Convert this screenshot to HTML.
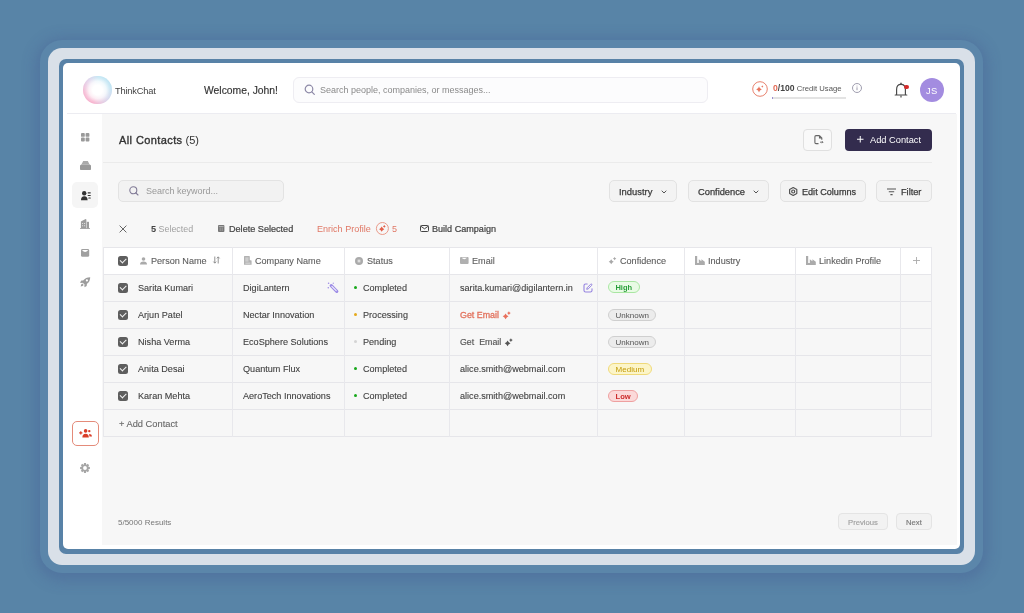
<!DOCTYPE html>
<html><head><meta charset="utf-8">
<style>
*{margin:0;padding:0;box-sizing:border-box}
html,body{width:1024px;height:613px;overflow:hidden}
body{background:#5884a7;font-family:"Liberation Sans",sans-serif;position:relative;color:#333}
.abs{position:absolute}
svg{position:absolute;overflow:visible}
#frame{left:48px;top:48px;width:927px;height:517px;border-radius:14px;background:#d9e0e8;box-shadow:0 0 0 8px #5b86aa,0 3px 14px 13px rgba(60,72,140,.26)}
#inner{left:59px;top:59px;width:905px;height:495px;border-radius:7px;background:#5882a7}
#app{left:63px;top:63px;width:897px;height:486px;border-radius:5px;background:#fff;overflow:hidden}
#content{left:102px;top:114px;width:855px;height:431px;background:#f7f7f7}
.t{position:absolute;white-space:nowrap;line-height:1;will-change:transform}
.btn{position:absolute;border:1px solid #e2e2e2;border-radius:5px;background:#f3f3f3}
.row{position:absolute;left:103px;width:829px;height:27px;border-bottom:1px solid #e6e6ea}
.vl{position:absolute;top:247px;width:1px;height:190px;background:#e8e8ec}
.cell{will-change:transform;position:absolute;height:27px;line-height:28px;font-size:9.1px;color:#404040;white-space:nowrap;-webkit-text-stroke-width:.1px}
.hd{color:#5e5e5e;-webkit-text-stroke-width:.12px}
.cb{position:absolute;left:118px;width:10px;height:10px;border-radius:2.5px;background:#5e5e5e}
.cb:after{content:"";position:absolute;left:2.2px;top:2.3px;width:5px;height:2.6px;border-left:1.5px solid #f4f4f4;border-bottom:1.5px solid #f4f4f4;transform:rotate(-45deg)}
.dot{display:inline-block;width:3.4px;height:3.4px;border-radius:50%;vertical-align:middle;margin-right:5.6px;position:relative;top:-1px}
.pill{will-change:transform;position:absolute;left:608px;height:12.4px;border-radius:7px;border:1px solid;font-size:8px;line-height:11.6px;padding-left:6.6px}
</style></head><body>
<div id="frame" class="abs"></div>
<div id="inner" class="abs"></div>
<div id="app" class="abs"></div>
<div id="content" class="abs"></div>

<!-- ============ HEADER ============ -->
<div class="abs" style="left:67px;top:113px;width:889px;height:1px;background:#ececf1"></div>
<div class="abs" style="left:83.3px;top:75.8px;width:28.6px;height:28.6px;border-radius:50%;background:conic-gradient(from 200deg,#f59cc0,#f3a9c9 60deg,#dcc8e6 115deg,#b4e0f1 165deg,#b0ddf0 235deg,#cfd0ea 290deg,#f59cc0 360deg)"></div>
<div class="abs" style="left:83.3px;top:75.8px;width:28.6px;height:28.6px;border-radius:50%;background:radial-gradient(circle closest-side,#fff 0,#fff 35%,rgba(255,255,255,.82) 62%,rgba(255,255,255,.4) 85%,rgba(255,255,255,.2) 100%)"></div>
<div class="t" style="left:114.8px;top:87px;font-size:9.3px;letter-spacing:-.2px;color:#444">ThinkChat</div>
<div class="t" style="left:204px;top:86px;font-size:10.35px;color:#333;-webkit-text-stroke:.15px #333">Welcome, John!</div>
<div class="abs" style="left:293px;top:77px;width:415px;height:26px;border:1px solid #eeedf2;border-radius:6px;background:#fcfcfd"></div>
<svg style="left:304px;top:84px" width="12" height="12" viewBox="0 0 12 12"><circle cx="5" cy="5" r="3.8" fill="none" stroke="#8c88a6" stroke-width="1.2"/><path d="M7.8 7.8L10.3 10.3" stroke="#8c88a6" stroke-width="1.2" stroke-linecap="round"/></svg>
<div class="t" style="left:320px;top:86px;font-size:9px;color:#8a8a8a">Search people, companies, or messages...</div>

<svg style="left:752px;top:81px" width="16" height="16" viewBox="0 0 16 16"><circle cx="8" cy="8" r="7.3" fill="none" stroke="#e8826e" stroke-width="1"/><path d="M7 5.2Q7.4 8 9.8 8.4Q7.4 8.8 7 11.6Q6.6 8.8 4.2 8.4Q6.6 8 7 5.2Z" fill="#e8735c"/><path d="M10.3 4.2Q10.5 5.3 11.4 5.5Q10.5 5.7 10.3 6.8Q10.1 5.7 9.2 5.5Q10.1 5.3 10.3 4.2Z" fill="#e8735c"/></svg>
<div class="t" style="left:772.5px;top:84px;font-size:7.7px;color:#555"><b style="color:#e26a55;font-size:8.6px">0</b><b style="color:#444;font-size:8.6px">/100</b> Credit Usage</div>
<div class="abs" style="left:772px;top:96.5px;width:74px;height:2px;background:#e3e3e3"></div>
<div class="abs" style="left:772px;top:96.5px;width:1px;height:2px;background:#9a8fd0"></div>
<svg style="left:852px;top:82.5px" width="10" height="10" viewBox="0 0 10 10"><circle cx="5" cy="5" r="4.5" fill="none" stroke="#9593a6" stroke-width="0.9"/><path d="M5 4.3V7.2" stroke="#9593a6" stroke-width="0.9"/><circle cx="5" cy="2.9" r="0.5" fill="#9593a6"/></svg>
<svg style="left:894px;top:82px" width="14" height="17" viewBox="0 0 14 17"><path d="M2.6 12.9V7.6Q2.6 2.3 7 2.3Q11.4 2.3 11.4 7.6V12.9" fill="none" stroke="#484848" stroke-width="1.15"/><path d="M1.2 13H12.8" stroke="#484848" stroke-width="1.2" stroke-linecap="round"/><path d="M7 13.4V15.6" stroke="#484848" stroke-width="1.2"/><path d="M7 1.2V2.4" stroke="#484848" stroke-width="1.3" stroke-linecap="round"/></svg>
<div class="abs" style="left:904px;top:84.7px;width:4.8px;height:4.8px;border-radius:50%;background:#d62b2b"></div>
<div class="abs" style="left:919.6px;top:77.8px;width:24.4px;height:24.4px;border-radius:50%;background:#a38ce0"></div>
<div class="t" style="left:925.8px;top:85.5px;font-size:9.4px;color:#fff;letter-spacing:0.3px">JS</div>

<!-- ============ SIDEBAR ============ -->
<svg style="left:80.8px;top:132.7px" width="8.4" height="8.4" viewBox="0 0 8.4 8.4" fill="#9a9a9a"><rect x="0" y="0" width="3.8" height="3.8" rx=".9"/><rect x="4.6" y="0" width="3.8" height="3.8" rx=".9"/><rect x="0" y="4.6" width="3.8" height="3.8" rx=".9"/><rect x="4.6" y="4.6" width="3.8" height="3.8" rx=".9"/></svg>
<svg style="left:80px;top:161px" width="11" height="9" viewBox="0 0 11 9"><path d="M3.2 0H7.8L9.6 3.6H1.4Z" fill="#aaa"/><path d="M1.2 3.6H9.8L11 4.6V8.2Q11 9 10.2 9H.8Q0 9 0 8.2V4.6Z" fill="#999"/></svg>
<div class="abs" style="left:72px;top:182px;width:26px;height:26px;border-radius:5px;background:#f5f5f5"></div>
<svg style="left:80.5px;top:190.5px" width="10.5" height="9.5" viewBox="0 0 10.5 9.5" fill="#333"><circle cx="3.2" cy="2.2" r="2.2"/><path d="M0 9.3Q0 5.2 3.3 5.2Q6.6 5.2 6.6 9.3Z"/><rect x="6.6" y="1.3" width="3.2" height="1.1" rx=".4"/><rect x="6.6" y="3.9" width="3.2" height="1.1" rx=".4"/><rect x="7.3" y="6.5" width="2.5" height="1.1" rx=".4"/></svg>
<svg style="left:80px;top:219px" width="10" height="10" viewBox="0 0 10 10"><path d="M.9 9.5V2.6L5.6 0L6.4 .4V9.5Z" fill="#9c9c9c"/><path d="M6.8 9.5V2.8H9V9.5Z" fill="#9c9c9c"/><path d="M2.1 4H3.1V5H2.1ZM4.1 4H5.1V5H4.1ZM2.1 6.2H3.1V7.2H2.1ZM4.1 6.2H5.1V7.2H4.1Z" fill="#e4e4e4"/><rect x="0" y="9.2" width="10" height=".8" fill="#9c9c9c"/></svg>
<svg style="left:80.9px;top:249px" width="8.2" height="7.8" viewBox="0 0 8.2 7.8"><path d="M0 1.4Q0 0 1.4 0H6.8Q8.2 0 8.2 1.4V6.4Q8.2 7.8 6.8 7.8H1.4Q0 7.8 0 6.4Z" fill="#a0a0a0"/><path d="M1 .9Q4.1 5.2 7.2 .9Z" fill="#fff"/></svg>
<svg style="left:79.9px;top:276.7px" width="10.4" height="10.2" viewBox="0 0 10.4 10.2" fill="#9c9c9c"><path d="M10.2 .2Q5.6 .2 3.2 3.6L2.2 5.2L5.1 8.1L6.7 7.1Q10.2 4.8 10.2 .2Z"/><path d="M3.6 3.4L1.3 3.6L0 5.8L2.5 5.9Z"/><path d="M6.9 6.8L6.7 9L4.5 10.2L4.4 7.8Z"/><path d="M2.3 6.6Q.9 7.3 .7 9.6Q3 9.4 3.7 8Z"/><circle cx="6.9" cy="3.4" r="1.1" fill="#fff"/></svg>
<div class="abs" style="left:72px;top:421px;width:26.5px;height:24.5px;border-radius:5px;border:1px solid #e48b7a;background:#fff"></div>
<svg style="left:79px;top:429.3px" width="13" height="8.6" viewBox="0 0 13 8.6" fill="#d93d28"><circle cx="6.6" cy="1.9" r="1.8"/><path d="M3.4 8.4Q3.4 4.7 6.6 4.7Q9.8 4.7 9.8 8.4Z"/><path d="M.2 3.9H3.4M1.8 2.3V5.5" stroke="#d93d28" stroke-width="1.1"/><circle cx="10.3" cy="2.1" r="1.2"/><path d="M13 7.6Q13 5.1 10.9 5.1Q10.2 5.1 9.9 5.4Q10.5 6.5 10.5 7.6Z"/></svg>
<svg style="left:80px;top:463px" width="10" height="10" viewBox="0 0 10 10"><path fill="#a6a6a6" fill-rule="evenodd" d="M4.01 0.10 L5.99 0.10 L6.16 1.49 L6.66 1.69 L7.76 0.83 L9.17 2.24 L8.31 3.34 L8.51 3.84 L9.90 4.01 L9.90 5.99 L8.51 6.16 L8.31 6.66 L9.17 7.76 L7.76 9.17 L6.66 8.31 L6.16 8.51 L5.99 9.90 L4.01 9.90 L3.84 8.51 L3.34 8.31 L2.24 9.17 L0.83 7.76 L1.69 6.66 L1.49 6.16 L0.10 5.99 L0.10 4.01 L1.49 3.84 L1.69 3.34 L0.83 2.24 L2.24 0.83 L3.34 1.69 L3.84 1.49Z M5 3.1A1.9 1.9 0 1 0 5 6.9A1.9 1.9 0 1 0 5 3.1Z"/></svg>

<!-- ============ CONTENT HEADER ============ -->
<div class="t" style="left:118.5px;top:134.5px;font-size:11px;color:#333"><span style="-webkit-text-stroke:.35px #333;letter-spacing:.4px">All Contacts</span> (5)</div>
<div class="abs" style="left:103px;top:162px;width:829px;height:1px;background:#ebebeb"></div>
<div class="abs" style="left:803.3px;top:128.5px;width:29px;height:22px;border-radius:4px;border:1px solid #e0e0e0;background:#f9f9f9"></div>
<svg style="left:814px;top:135px" width="10" height="10" viewBox="0 0 10 10"><path d="M5.5 .6H2Q.9 .6 .9 1.7V7.5Q.9 8.6 2 8.6H4.5M5.5 .6L7.8 2.9V4.8M5.5 .6V2.9H7.8" fill="none" stroke="#666" stroke-width="1.1"/><path d="M6 7.2H9M8 6.2L9 7.2L8 8.2" fill="none" stroke="#666" stroke-width=".9"/></svg>
<div class="abs" style="left:845.3px;top:128.7px;width:86.7px;height:22px;border-radius:4px;background:#332c4e"></div>
<svg style="left:857px;top:136px" width="6.5" height="6.5" viewBox="0 0 6.5 6.5"><path d="M3.25 0V6.5M0 3.25H6.5" stroke="#fff" stroke-width="1"/></svg>
<div class="t" style="left:870.2px;top:136px;font-size:9.27px;color:#fff">Add Contact</div>

<!-- ============ FILTER BAR ============ -->
<div class="btn" style="left:118.3px;top:180.3px;width:166px;height:22px;border-color:#e3e3e3;background:#f2f2f2"></div>
<svg style="left:129px;top:186.3px" width="11" height="10" viewBox="0 0 11 10"><circle cx="4.3" cy="4.3" r="3.5" fill="none" stroke="#807a96" stroke-width="1.1"/><path d="M6.8 6.8L9 9" stroke="#807a96" stroke-width="1.1" stroke-linecap="round"/></svg>
<div class="t" style="left:145.7px;top:187px;font-size:9px;color:#999">Search keyword...</div>

<div class="btn" style="left:609.2px;top:180.4px;width:68.3px;height:22px"></div>
<div class="t" style="left:619.4px;top:187px;font-size:9.4px;color:#3a3a3a;-webkit-text-stroke:.25px #3a3a3a">Industry</div>
<svg style="left:661px;top:189.5px" width="6" height="4" viewBox="0 0 6 4"><path d="M.7 .7L3 3L5.3 .7" fill="none" stroke="#555" stroke-width="1"/></svg>
<div class="btn" style="left:688px;top:180.4px;width:81.3px;height:22px"></div>
<div class="t" style="left:698px;top:188px;font-size:9.3px;color:#3a3a3a;-webkit-text-stroke:.25px #3a3a3a">Confidence</div>
<svg style="left:752.5px;top:189.5px" width="6" height="4" viewBox="0 0 6 4"><path d="M.7 .7L3 3L5.3 .7" fill="none" stroke="#555" stroke-width="1"/></svg>
<div class="btn" style="left:780.3px;top:180.4px;width:85.7px;height:22px"></div>
<svg style="left:788.8px;top:187px" width="8.4" height="9" viewBox="0 0 8.4 9"><path d="M4.2 .6L7.8 2.6V6.4L4.2 8.4L.6 6.4V2.6Z" fill="none" stroke="#505050" stroke-width="1.15" stroke-linejoin="round"/><circle cx="4.2" cy="4.5" r="1.5" fill="none" stroke="#505050" stroke-width="1.2"/></svg>
<div class="t" style="left:801.6px;top:188px;font-size:9.1px;color:#3a3a3a;-webkit-text-stroke:.25px #3a3a3a">Edit Columns</div>
<div class="btn" style="left:876.2px;top:180.4px;width:55.4px;height:22px"></div>
<svg style="left:887px;top:188px" width="9" height="8" viewBox="0 0 9 8"><path d="M0 1H9M1.8 3.8H7.2M3.4 6.6H5.6" stroke="#555" stroke-width="1.1"/></svg>
<div class="t" style="left:901.2px;top:188px;font-size:9.2px;color:#3a3a3a;-webkit-text-stroke:.25px #3a3a3a">Filter</div>

<!-- ============ ACTION BAR ============ -->
<svg style="left:119px;top:225px" width="8" height="8" viewBox="0 0 8 8"><path d="M.6 .6L7.4 7.4M7.4 .6L.6 7.4" stroke="#666" stroke-width="1"/></svg>
<div class="t" style="left:150.6px;top:225px;font-size:8.9px;color:#a0a0a0"><b style="color:#444;font-size:9.2px">5</b> Selected</div>
<svg style="left:217.8px;top:225.4px" width="6.4" height="7" viewBox="0 0 6.4 7"><path d="M0 .9Q0 0 .9 0H5.5Q6.4 0 6.4 .9V6.1Q6.4 7 5.5 7H.9Q0 7 0 6.1Z" fill="#777"/><path d="M.8 1.6H5.6" stroke="#ddd" stroke-width=".6"/><path d="M2.2 2.6V6M4.2 2.6V6" stroke="#bbb" stroke-width=".6"/></svg>
<div class="t" style="left:228.5px;top:225px;font-size:9.1px;color:#444;-webkit-text-stroke:.22px #444">Delete Selected</div>
<div class="t" style="left:317px;top:224.5px;font-size:9.05px;color:#e07866">Enrich Profile</div>
<svg style="left:376px;top:222px" width="13" height="13" viewBox="0 0 13 13"><circle cx="6.4" cy="6.5" r="6" fill="none" stroke="#e8907e" stroke-width=".9"/><path d="M5.7 4.6Q6.48 6.42 8.3 7.2Q6.48 7.98 5.7 9.8Q4.92 7.98 3.1 7.2Q4.92 6.42 5.7 4.6Z" fill="#e4604a"/><path d="M8.3 3.0000000000000004Q8.72 3.98 9.700000000000001 4.4Q8.72 4.82 8.3 5.800000000000001Q7.88 4.82 6.9 4.4Q7.88 3.98 8.3 3.0000000000000004Z" fill="#e4604a"/></svg>
<div class="t" style="left:391.6px;top:224.5px;font-size:9px;color:#e07866">5</div>
<svg style="left:419.5px;top:225.2px" width="9" height="7" viewBox="0 0 9 7"><rect x=".5" y=".5" width="8" height="6" rx="1" fill="none" stroke="#444" stroke-width="1"/><path d="M.8 1.2L4.5 3.8L8.2 1.2" fill="none" stroke="#444" stroke-width="1"/></svg>
<div class="t" style="left:431.5px;top:225px;font-size:9.07px;color:#444;-webkit-text-stroke:.22px #444">Build Campaign</div>

<!-- ============ TABLE ============ -->
<div class="abs" style="left:103px;top:247px;width:829px;height:28px;background:#fff"></div>
<div class="abs" style="left:103px;top:247px;width:829px;height:1px;background:#e6e6ea"></div>
<div class="row" style="top:248px"></div>
<div class="row" style="top:275px"></div>
<div class="row" style="top:302px"></div>
<div class="row" style="top:329px"></div>
<div class="row" style="top:356px"></div>
<div class="row" style="top:383px"></div>
<div class="row" style="top:410px"></div>
<div class="vl" style="left:103px"></div>
<div class="vl" style="left:232px"></div>
<div class="vl" style="left:344px"></div>
<div class="vl" style="left:449px"></div>
<div class="vl" style="left:597px"></div>
<div class="vl" style="left:684px"></div>
<div class="vl" style="left:795px"></div>
<div class="vl" style="left:900px"></div>
<div class="vl" style="left:931px"></div>

<!-- header cells -->
<div class="cb" style="top:256px"></div>
<svg style="left:139.5px;top:256.5px" width="7" height="8" viewBox="0 0 7 8" fill="#aaa"><circle cx="3.5" cy="2" r="1.8"/><path d="M0 7.5Q0 4.5 3.5 4.5Q7 4.5 7 7.5Z"/></svg>
<div class="cell hd" style="left:150.6px;top:247px">Person Name</div>
<svg style="left:212.5px;top:256px" width="7" height="8" viewBox="0 0 7 8"><path d="M1.8 .5V7M.4 5.6L1.8 7.2L3.2 5.6M5.2 7.5V1M3.8 2.4L5.2 .8L6.6 2.4" fill="none" stroke="#888" stroke-width=".9"/></svg>
<svg style="left:244px;top:256.2px" width="7.6" height="8.7" viewBox="0 0 7.6 8.7"><path d="M0 .6Q0 0 .6 0H5.2Q5.8 0 5.8 .6V4.3H7Q7.6 4.3 7.6 4.9V8.7H0Z" fill="#b2b2b2"/><rect x="1.3" y="1.3" width="3.2" height="4.4" fill="#cdcdcd"/><rect x="1.3" y="6.7" width="5" height=".9" fill="#dedede"/></svg>
<div class="cell hd" style="left:255.3px;top:247px">Company Name</div>
<svg style="left:355px;top:256.5px" width="8" height="8" viewBox="0 0 8 8"><circle cx="4" cy="4" r="4" fill="#aaa"/><rect x="2.6" y="2.6" width="2.8" height="2.8" fill="#ddd"/></svg>
<div class="cell hd" style="left:366.7px;top:247px">Status</div>
<svg style="left:460.2px;top:257px" width="8.6" height="7" viewBox="0 0 8.6 7"><path d="M0 1Q0 0 1 0H7.6Q8.6 0 8.6 1V6Q8.6 7 7.6 7H1Q0 7 0 6Z" fill="#b0b0b0"/><path d="M1.6 .8Q4.3 3.6 7 .8Z" fill="#fff"/></svg>
<div class="cell hd" style="left:472px;top:247px">Email</div>
<svg style="left:607px;top:255px" width="10" height="10" viewBox="0 0 10 10" fill="#a8a8a8"><path d="M4.2 4.2Q4.95 5.95 6.7 6.7Q4.95 7.45 4.2 9.2Q3.45 7.45 1.7000000000000002 6.7Q3.45 5.95 4.2 4.2Z"/><path d="M7.6 1.9000000000000001Q8.11 3.09 9.299999999999999 3.6Q8.11 4.11 7.6 5.3Q7.09 4.11 5.8999999999999995 3.6Q7.09 3.09 7.6 1.9000000000000001Z"/></svg>
<div class="cell hd" style="left:620.3px;top:247px">Confidence</div>
<svg style="left:695px;top:256px" width="10" height="9" viewBox="0 0 10 9"><path d="M0 0H2.2V7H3.8V3.2L6.4 5.2V3.2L9.8 5.8V9H0Z" fill="#ababab"/></svg>
<div class="cell hd" style="left:708px;top:247px">Industry</div>
<svg style="left:806.2px;top:256px" width="10" height="9" viewBox="0 0 10 9"><path d="M0 0H2.2V7H3.8V3.2L6.4 5.2V3.2L9.8 5.8V9H0Z" fill="#ababab"/></svg>
<div class="cell hd" style="left:819.1px;top:247px">Linkedin Profile</div>
<svg style="left:913px;top:257px" width="7" height="7" viewBox="0 0 7 7"><path d="M3.5 0V7M0 3.5H7" stroke="#aaa" stroke-width=".9"/></svg>

<!-- row 1 -->
<div class="cb" style="top:283px"></div>
<div class="cell" style="left:138px;top:274px">Sarita Kumari</div>
<div class="cell" style="left:243px;top:274px">DigiLantern</div>
<svg style="left:326px;top:281px" width="13" height="13" viewBox="0 0 13 13"><path d="M5.2 4.6L10.8 10.3" stroke="#9d8ce6" stroke-width="3.2" stroke-linecap="round"/><path d="M5.9 5.4L10.2 9.6" stroke="#f2f0fb" stroke-width="1.1" stroke-linecap="round"/><circle cx="2.6" cy="2.2" r=".8" fill="#9d8ce6"/><circle cx="7.3" cy="2.3" r=".7" fill="#b0a4ea"/><circle cx="2.3" cy="6.8" r=".8" fill="#9d8ce6"/></svg>
<div class="cell" style="left:354px;top:274px"><span class="dot" style="background:#17a81a"></span>Completed</div>
<div class="cell" style="left:459.5px;top:274px">sarita.kumari@digilantern.in</div>
<svg style="left:582.5px;top:283px" width="10" height="10" viewBox="0 0 10 10"><path d="M4.2 1H2.6Q1 1 1 2.6V7.4Q1 9 2.6 9H7.4Q9 9 9 7.4V5.8" fill="none" stroke="#9583e0" stroke-width="1.1" stroke-linecap="round"/><path d="M8.4 .9Q9.3 1.8 8.6 2.5L5.2 5.9L3.7 6.3L4.1 4.8L7.5 1.4Q8 .6 8.4 .9Z" fill="none" stroke="#9583e0" stroke-width="1" stroke-linejoin="round"/></svg>
<div class="pill" style="top:281.4px;width:31.6px;background:#e9fbe5;border-color:#a9e6a2;color:#2a9f3a;font-size:7.5px;font-weight:bold;padding-left:6.4px;-webkit-text-stroke-width:0">High</div>

<!-- row 2 -->
<div class="cb" style="top:310px"></div>
<div class="cell" style="left:138px;top:301px">Arjun Patel</div>
<div class="cell" style="left:243px;top:301px">Nectar Innovation</div>
<div class="cell" style="left:354px;top:301px"><span class="dot" style="background:#e5a91b"></span>Processing</div>
<div class="cell" style="left:459.8px;top:301px;color:#e2715c;font-size:8.88px;-webkit-text-stroke:.3px #e2715c">Get Email</div>
<svg style="left:502px;top:310px" width="10" height="10" viewBox="0 0 10 10" fill="#e8705c"><path d="M3.6 3.4Q4.47 5.43 6.5 6.3Q4.47 7.17 3.6 9.2Q2.73 7.17 0.7000000000000002 6.3Q2.73 5.43 3.6 3.4Z"/><path d="M6.9 1.2000000000000002Q7.47 2.53 8.8 3.1Q7.47 3.67 6.9 5.0Q6.33 3.67 5.0 3.1Q6.33 2.53 6.9 1.2000000000000002Z"/></svg>
<div class="pill" style="top:308.6px;width:48.2px;background:#ececec;border-color:#cfcfcf;color:#555">Unknown</div>

<!-- row 3 -->
<div class="cb" style="top:337px"></div>
<div class="cell" style="left:138px;top:328px">Nisha Verma</div>
<div class="cell" style="left:243px;top:328px">EcoSphere Solutions</div>
<div class="cell" style="left:354px;top:328px"><span class="dot" style="background:#d4d4d4"></span>Pending</div>
<div class="cell" style="left:459.8px;top:328px;color:#555;font-size:8.83px;-webkit-text-stroke:.15px #555">Get&nbsp; Email</div>
<svg style="left:504px;top:337px" width="10" height="10" viewBox="0 0 10 10" fill="#555"><path d="M3.6 3.4Q4.47 5.43 6.5 6.3Q4.47 7.17 3.6 9.2Q2.73 7.17 0.7000000000000002 6.3Q2.73 5.43 3.6 3.4Z"/><path d="M6.9 1.2000000000000002Q7.47 2.53 8.8 3.1Q7.47 3.67 6.9 5.0Q6.33 3.67 5.0 3.1Q6.33 2.53 6.9 1.2000000000000002Z"/></svg>
<div class="pill" style="top:335.6px;width:48.2px;background:#ececec;border-color:#cfcfcf;color:#555">Unknown</div>

<!-- row 4 -->
<div class="cb" style="top:364px"></div>
<div class="cell" style="left:138px;top:355px">Anita Desai</div>
<div class="cell" style="left:243px;top:355px">Quantum Flux</div>
<div class="cell" style="left:354px;top:355px"><span class="dot" style="background:#17a81a"></span>Completed</div>
<div class="cell" style="left:459.5px;top:355px">alice.smith@webmail.com</div>
<div class="pill" style="top:362.6px;width:43.7px;background:#fcf5c8;border-color:#efd97a;color:#c29a06">Medium</div>

<!-- row 5 -->
<div class="cb" style="top:391px"></div>
<div class="cell" style="left:138px;top:382px">Karan Mehta</div>
<div class="cell" style="left:243px;top:382px">AeroTech Innovations</div>
<div class="cell" style="left:354px;top:382px"><span class="dot" style="background:#17a81a"></span>Completed</div>
<div class="cell" style="left:459.5px;top:382px">alice.smith@webmail.com</div>
<div class="pill" style="top:389.6px;width:29.5px;background:#fbd9d9;border-color:#eea0a0;color:#cc2b2b;font-size:7.6px;font-weight:bold;padding-left:6.6px">Low</div>

<!-- add contact row -->
<div class="cell" style="left:118.5px;top:410px;color:#666;font-size:9.3px">+ Add Contact</div>

<!-- ============ FOOTER ============ -->
<div class="t" style="left:118.3px;top:518.5px;font-size:8px;color:#777">5/5000 Results</div>
<div class="btn" style="left:838.2px;top:513.4px;width:49.8px;height:17px;border-radius:4px;border-color:#e4e4e4;background:#f2f2f2"></div>
<div class="t" style="left:848px;top:518.5px;font-size:7.7px;color:#a0a0a0;-webkit-text-stroke:.15px #a0a0a0">Previous</div>
<div class="btn" style="left:896px;top:513.4px;width:35.7px;height:17px;border-radius:4px;border-color:#e4e4e4;background:#f2f2f2"></div>
<div class="t" style="left:905.6px;top:518.5px;font-size:7.7px;color:#777;-webkit-text-stroke:.15px #777">Next</div>
</body></html>
